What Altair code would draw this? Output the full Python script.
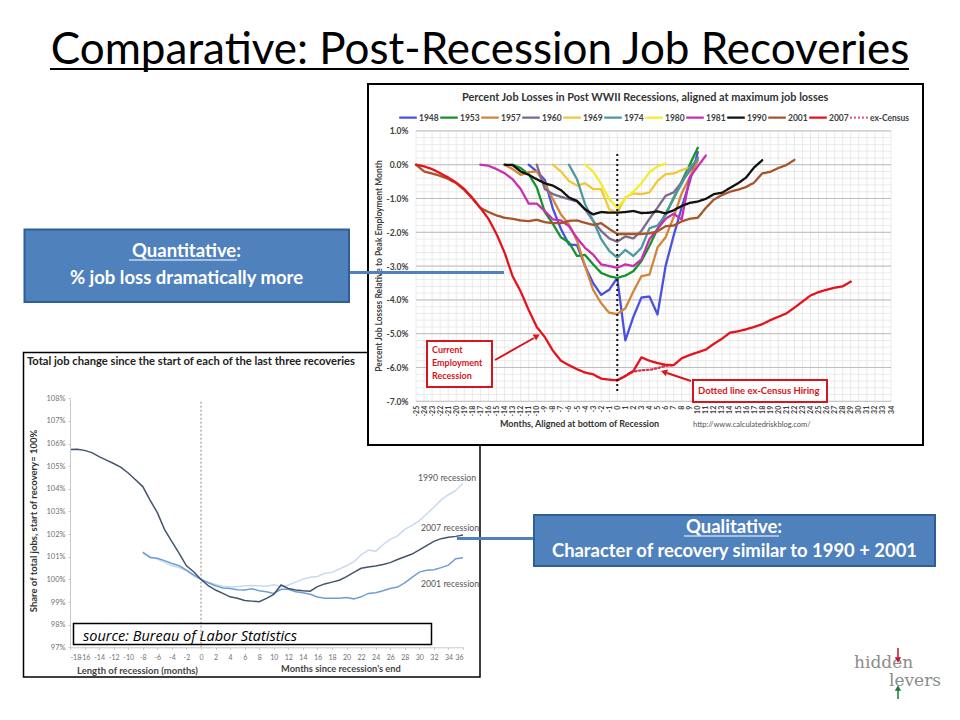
import altair as alt

# ---------- upper chart values (percent job loss, by month from the bottom) ----------
top_names = ["1948", "1953", "1957", "1960", "1969", "1974", "1980", "1981", "1990", "2001", "ex-Census", "2007"]
legend_order = ["1948", "1953", "1957", "1960", "1969", "1974", "1980", "1981", "1990", "2001", "2007", "ex-Census"]
top_colors = ["#4a50e0", "#14932c", "#d2863c", "#7b6a8e", "#efc93a", "#4c9aa0", "#f2ee2e", "#c82fb4", "#111111", "#a5562a", "#e03050", "#e5141c"]
top_starts = [-11, -13, -14, -10, -8, -6, -4, -17, -14, -25, 0, -25]

s1948 = [0, -0.2, -0.45, -1.3, -1.9, -2.36, -2.38, -3.0, -3.5, -3.85, -3.7, -3.35, -5.2, -4.5, -3.93, -3.9, -4.43, -3.0, -2.1, -1.27, -0.5, 0.37]
s1953 = [0, -0.1, -0.28, -0.67, -1.4, -1.75, -2.15, -2.3, -2.7, -2.67, -2.95, -3.2, -3.3, -3.35, -3.28, -3.15, -2.85, -2.4, -1.9, -1.45, -1.0, -0.5, 0.0, 0.5]
s1957 = [0, -0.13, -0.3, -0.22, -0.2, -0.57, -1.02, -1.47, -1.77, -2.25, -3.0, -3.7, -4.1, -4.38, -4.42, -4.25, -3.75, -3.3, -3.25, -2.45, -2.15, -1.55, -0.85, -0.37, 0.12]
s1960 = [0, -0.72, -0.87, -0.95, -1.02, -1.09, -1.32, -1.66, -1.96, -2.18, -2.28, -2.12, -2.18, -1.96, -1.6, -1.27, -0.92, -0.82, -0.52, -0.18, 0.22]
s1969 = [0, -0.2, -0.48, -0.62, -0.55, -0.72, -0.72, -1.32, -1.42, -0.97, -0.85, -0.87, -0.82, -0.48, -0.28, -0.26, -0.16, -0.08]
s1974 = [0, -0.43, -1.17, -1.66, -2.2, -2.55, -2.75, -2.52, -2.7, -2.46, -1.88, -1.8, -1.5, -0.97, -0.57, -0.08, 0.17]
s1980 = [0, -0.2, -0.57, -1.02, -1.27, -1.0, -0.8, -0.55, -0.22, -0.05, 0.03]
s1981 = [0, -0.03, -0.13, -0.25, -0.43, -0.72, -1.15, -1.15, -1.37, -1.62, -1.65, -1.82, -2.17, -2.46, -2.66, -2.95, -3.0, -3.05, -2.95, -3.0, -2.8, -2.2, -1.9, -1.6, -1.45, -1.62, -0.38, -0.05, 0.27]
s1990 = [0, -0.01, -0.2, -0.3, -0.43, -0.55, -0.62, -0.75, -0.97, -1.07, -1.32, -1.47, -1.4, -1.42, -1.42, -1.4, -1.37, -1.43, -1.42, -1.38, -1.44, -1.35, -1.22, -1.13, -1.09, -1.01, -0.87, -0.83, -0.69, -0.55, -0.38, -0.08, 0.13]
s2001 = [0, -0.2, -0.26, -0.33, -0.42, -0.55, -0.75, -1.0, -1.28, -1.4, -1.5, -1.57, -1.6, -1.65, -1.67, -1.63, -1.7, -1.73, -1.73, -1.66, -1.65, -1.72, -1.78, -1.73, -1.9, -2.05, -2.05, -2.05, -2.05, -2.03, -1.97, -1.82, -1.8, -1.68, -1.6, -1.57, -1.28, -1.03, -0.9, -0.8, -0.74, -0.66, -0.53, -0.26, -0.21, -0.1, -0.01, 0.14]
sCensus = [-6.38, -6.25, -6.12, -6.08, -6.07, -6.02, -5.95, -5.93]
s2007 = [0, -0.05, -0.13, -0.25, -0.38, -0.53, -0.72, -0.98, -1.28, -1.6, -2.05, -2.6, -3.3, -3.75, -4.3, -4.8, -5.1, -5.5, -5.8, -5.93, -6.05, -6.15, -6.2, -6.33, -6.36, -6.38, -6.25, -6.1, -5.7, -5.8, -5.87, -5.92, -5.93, -5.73, -5.63, -5.55, -5.47, -5.3, -5.15, -4.97, -4.93, -4.87, -4.8, -4.72, -4.6, -4.5, -4.4, -4.23, -4.05, -3.87, -3.77, -3.7, -3.64, -3.6, -3.46]
top_values = [s1948, s1953, s1957, s1960, s1969, s1974, s1980, s1981, s1990, s2001, sCensus, s2007]

top_months = list(range(-25, 35))
top_pct = [-7, -6, -5, -4, -3, -2, -1, 0, 1]
top_minor = [v / 5 for v in range(-35, 6)]

# ---------- lower chart values (share of total jobs) ----------
low_2007 = [105.74, 105.75, 105.7, 105.6, 105.42, 105.27, 105.12, 104.95, 104.7, 104.4, 104.1, 103.5, 102.95, 102.2, 101.67, 101.15, 100.6, 100.34, 100.0, 99.72, 99.53, 99.38, 99.23, 99.17, 99.07, 99.04, 99.01, 99.16, 99.34, 99.75, 99.6, 99.53, 99.5, 99.48, 99.68, 99.8, 99.88, 99.96, 100.12, 100.31, 100.49, 100.55, 100.59, 100.66, 100.74, 100.88, 101.0, 101.12, 101.3, 101.49, 101.68, 101.8, 101.86, 101.9, 101.96]
low_2001 = [101.2, 100.97, 100.93, 100.83, 100.7, 100.6, 100.41, 100.2, 100.0, 99.85, 99.72, 99.62, 99.6, 99.54, 99.53, 99.59, 99.5, 99.45, 99.38, 99.56, 99.56, 99.45, 99.41, 99.34, 99.22, 99.17, 99.17, 99.17, 99.2, 99.14, 99.23, 99.38, 99.41, 99.5, 99.6, 99.66, 99.85, 100.09, 100.32, 100.4, 100.43, 100.52, 100.63, 100.91, 100.96]
low_1990 = [101.15, 101.0, 100.9, 100.75, 100.6, 100.52, 100.38, 100.15, 100.0, 99.87, 99.78, 99.7, 99.68, 99.68, 99.72, 99.73, 99.72, 99.7, 99.76, 99.68, 99.75, 99.88, 100.01, 100.09, 100.13, 100.27, 100.31, 100.46, 100.6, 100.78, 101.08, 101.3, 101.24, 101.53, 101.77, 101.92, 102.21, 102.39, 102.6, 102.89, 103.19, 103.51, 103.74, 103.93, 104.25]
low_names = ["1990 recession", "2001 recession", "2007 recession"]
low_colors = ["#c9daf0", "#6f9dd8", "#44546a"]
low_values = [low_1990, low_2001, low_2007]
low_starts = [-8, -8, -18]
low_x_ticks = list(range(-18, 37, 2))
low_y_ticks = list(range(97, 109))

FONT = "Lato"


def P(v):
    return v - 8


one = alt.Data(values=[{"k": 1}])


def label(text, x, y, size=12, color="#000000", weight="normal", align="left", angle=0, font=FONT, style="normal"):
    return alt.Chart(alt.Data(values=[{"t": text}])).mark_text(
        fontSize=size, color=color, fontWeight=weight, align=align, angle=angle,
        font=font, fontStyle=style, baseline="middle"
    ).encode(x=alt.value(P(x)), y=alt.value(P(y)), text="t:N")


def box(x0, y0, x1, y1, fill="#ffffff", stroke="#000000", width=1.5):
    return alt.Chart(one).mark_rect(fill=fill, stroke=stroke, strokeWidth=width).encode(
        x=alt.value(P(x0)), x2=alt.value(P(x1)), y=alt.value(P(y0)), y2=alt.value(P(y1)))


def seg(x0, y0, x1, y1, color="#000000", width=1.0):
    return alt.Chart(one).mark_rule(color=color, strokeWidth=width).encode(
        x=alt.value(P(x0)), x2=alt.value(P(x1)), y=alt.value(P(y0)), y2=alt.value(P(y1)))


def head(x, y, angle, color, size=50):
    return alt.Chart(one).mark_point(shape="triangle-up", filled=True, opacity=1, color=color, size=size, angle=angle).encode(
        x=alt.value(P(x)), y=alt.value(P(y)))


# ---------- upper chart ----------
tx = alt.Scale(domain=[-25, 34], range=[P(416), P(891)], nice=False, zero=False)
ty = alt.Scale(domain=[-7, 1], range=[P(401.3), P(130.9)], nice=False, zero=False)

top_rows = []
for name, start, vals in zip(top_names, top_starts, top_values):
    for i, v in enumerate(vals):
        top_rows.append({"series": name, "m": start + i, "v": v})

minus_fix = "replace(format(datum.value,'.1f'),'\u2212','-')+'%'"
int_fix = "replace(format(datum.value,'d'),'\u2212','-')"

t_minor_h = alt.Chart(alt.Data(values=[{"v": v} for v in top_minor])).mark_rule(color="#e4e4e4", strokeWidth=0.8).encode(
    y=alt.Y("v:Q", scale=ty, title=None,
            axis=alt.Axis(values=top_pct, tickCount=len(top_pct), labelExpr=minus_fix, labelFont=FONT, labelFontWeight="bold", labelFontSize=8.5,
                          labelColor="#404040", domain=False, ticks=False, grid=False, labelPadding=8, zindex=1,
                          orient="left", offset=-P(416))),
    x=alt.X(datum=-25, scale=tx), x2=alt.X2(datum=34))
t_minor_v = alt.Chart(alt.Data(values=[{"m": m} for m in top_months])).mark_rule(color="#e4e4e4", strokeWidth=0.8).encode(
    x=alt.X("m:Q", scale=tx, title=None,
            axis=alt.Axis(values=top_months, tickCount=len(top_months), labelExpr=int_fix, labelAngle=270, labelAlign="right", labelBaseline="middle",
                          labelFont=FONT, labelFontWeight="bold", labelFontSize=7, labelColor="#404040", labelOverlap=False,
                          domain=False, ticks=False, grid=False, labelPadding=4, zindex=1,
                          orient="bottom", offset=-(704 - P(401.3)))),
    y=alt.Y(datum=-7, scale=ty), y2=alt.Y2(datum=1))
t_major = alt.Chart(alt.Data(values=[{"v": v} for v in top_pct])).mark_rule(color="#bdbdbd", strokeWidth=1).encode(
    y=alt.Y("v:Q", scale=ty), x=alt.X(datum=-25, scale=tx), x2=alt.X2(datum=34))
t_lines = alt.Chart(alt.Data(values=top_rows)).mark_line(strokeCap="round", strokeJoin="round").encode(
    x=alt.X("m:Q", scale=tx), y=alt.Y("v:Q", scale=ty),
    color=alt.Color("series:N", scale=alt.Scale(domain=legend_order, range=[top_colors[top_names.index(n)] for n in legend_order]),
                    legend=alt.Legend(orient="none", legendX=P(398), legendY=P(107.5), direction="horizontal", columns=12, title=None,
                                      symbolType="stroke", symbolSize=310, labelFont=FONT, labelFontSize=8.5, labelFontWeight="bold",
                                      labelColor="#404040", labelOffset=1, columnPadding=-7.4, padding=0, rowPadding=0)),
    strokeDash=alt.StrokeDash("series:N", scale=alt.Scale(domain=legend_order, range=[[1, 0]] * 11 + [[1.5, 2.5]])),
    strokeWidth=alt.StrokeWidth("series:N", scale=alt.Scale(domain=legend_order, range=[2.3] * 10 + [3.2, 1.5])),
    order=alt.Order("m:Q"),
)
t_zero = alt.Chart(one).mark_rule(color="#111111", strokeWidth=2, strokeDash=[2, 3]).encode(
    x=alt.X(datum=0, scale=tx), y=alt.Y(datum=0.32, scale=ty), y2=alt.Y2(datum=-6.75))
top_chart = alt.layer(t_minor_h, t_minor_v, t_major, t_lines, t_zero)

# ---------- lower chart ----------
lx = alt.Scale(domain=[-18, 36], range=[P(70), P(463)], nice=False, zero=False)
ly = alt.Scale(domain=[97, 108], range=[P(647.3), P(398.3)], nice=False, zero=False)

low_rows = []
for name, start, vals in zip(low_names, low_starts, low_values):
    for i, v in enumerate(vals):
        low_rows.append({"series": name, "m": start + i, "v": v})

l_lines = alt.Chart(alt.Data(values=low_rows)).mark_line(strokeWidth=1.5).encode(
    x=alt.X("m:Q", scale=lx, title=None,
            axis=alt.Axis(values=low_x_ticks, tickCount=len(low_x_ticks), labelExpr=int_fix, labelFont=FONT, labelFontSize=7, labelColor="#707070",
                          domainColor="#c8c8c8", tickColor="#c8c8c8", tickSize=2, grid=False, labelPadding=4, labelOverlap=False, zindex=1,
                          orient="bottom", offset=-(704 - P(647.3)))),
    y=alt.Y("v:Q", scale=ly, title=None,
            axis=alt.Axis(values=low_y_ticks, tickCount=len(low_y_ticks), labelExpr="datum.value+'%'", labelFont=FONT, labelFontSize=7.5, labelColor="#707070",
                          domainColor="#c8c8c8", tickColor="#c8c8c8", tickSize=2, grid=False, labelPadding=3, labelOverlap=False, zindex=1,
                          orient="left", offset=-P(70))),
    color=alt.Color("series:N", scale=alt.Scale(domain=low_names, range=low_colors), legend=None),
    order=alt.Order("m:Q"),
)
l_zero = alt.Chart(one).mark_rule(color="#8a8a8a", strokeWidth=1, strokeDash=[2, 2]).encode(
    x=alt.X(datum=0, scale=lx), y=alt.Y(datum=107.85, scale=ly), y2=alt.Y2(datum=97))
low_chart = alt.layer(l_zero, l_lines)

# ---------- slide furniture ----------
BLUE = "#4f81bd"
DBLUE = "#2f5f94"
RED = "#d8141c"

back = [
    label("Comparative: Post-Recession Job Recoveries", 480, 51, size=44, align="center"),
    seg(50, 69, 909, 69, width=2),
    box(23.5, 352.5, 480, 677),
]
low_text = [
    label("Total job change since the start of each of the last three recoveries", 27, 362, size=11.2, weight="bold", color="#222222"),
    label("Share of total jobs, start of recovery= 100%", 34, 521, size=9.5, weight="bold", color="#333333", align="center", angle=270),
    label("Length of recession (months)", 77, 671, size=9.5, weight="bold", color="#444444"),
    label("Months since recession's end", 281, 669, size=9.3, weight="bold", color="#444444"),
    label("1990 recession", 418, 478, size=8.7, color="#555555"),
    label("2007 recession", 421, 528, size=8.7, color="#555555"),
    label("2001 recession", 421, 584, size=8.7, color="#555555"),
    box(73.5, 623.5, 431.5, 644.5, fill="transparent"),
    label("source: Bureau of Labor Statistics", 83, 637, size=14.5, style="italic", font="Open Sans"),
]
top_frame = [box(368, 84, 923, 445, width=2)]
top_text = [
    label("Percent Job Losses in Post WWII Recessions, aligned at maximum job losses", 462, 97.5, size=10.9, weight="bold", color="#333333"),
    label("Percent Job Losses Relative to Peak Employment Month", 379, 266, size=8.5, weight="bold", color="#404040", align="center", angle=270),
    label("Months, Aligned at bottom of Recession", 500, 424, size=9, weight="bold", color="#333333"),
    label("http://www.calculatedriskblog.com/", 693, 425, size=7.5, color="#505050"),
    box(427, 341, 492, 387, stroke=RED, width=2),
    label("Current", 432, 350, size=9, weight="bold", color=RED),
    label("Employment", 432, 363, size=9, weight="bold", color=RED),
    label("Recession", 432, 376, size=9, weight="bold", color=RED),
    seg(495, 360, 534, 338, color=RED, width=2),
    head(537, 336, 60, RED),
    box(693, 380, 827, 402, stroke=RED, width=2),
    label("Dotted line ex-Census Hiring", 698, 391, size=9.5, weight="bold", color=RED),
    seg(691, 381, 667, 373, color=RED, width=2),
    head(664, 372, 288, RED),
]
front = [
    seg(349, 272.5, 504, 272.5, color=BLUE, width=3),
    seg(457, 538.5, 534, 538.5, color=BLUE, width=3),
    box(24.5, 229.5, 349, 302, fill=BLUE, stroke=DBLUE, width=2),
    label("Quantitative:", 186.5, 251, size=18.5, weight="bold", color="#ffffff", align="center"),
    seg(129, 260, 237, 260, color="#ffffff", width=1.2),
    label("% job loss dramatically more", 186.5, 278, size=18.5, weight="bold", color="#ffffff", align="center"),
    box(534, 515, 935, 566, fill=BLUE, stroke=DBLUE, width=2),
    label("Qualitative:", 734, 527, size=18.5, weight="bold", color="#ffffff", align="center"),
    seg(684, 536, 779, 536, color="#ffffff", width=1.2),
    label("Character of recovery similar to 1990 + 2001", 734.5, 551, size=18.4, weight="bold", color="#ffffff", align="center"),
    label("hidden", 854, 663, size=17, color="#8c8c8c", font="DejaVu Serif"),
    label("levers", 889, 681, size=17, color="#8c8c8c", font="DejaVu Serif"),
    seg(898, 648, 898, 658, color="#c8102e", width=1.5),
    head(898, 660, 180, "#c8102e", size=40),
    seg(898, 690, 898, 699, color="#1a7a3a", width=1.5),
    head(898, 688, 0, "#1a7a3a", size=40),
]

chart = alt.layer(
    *back, low_chart, *low_text, *top_frame, top_chart, *top_text, *front
).resolve_scale(x="independent", y="independent", color="independent", strokeDash="independent", strokeWidth="independent").properties(
    width=944, height=704, padding=0,
    autosize=alt.AutoSizeParams(type="none"),
    background="#ffffff",
).configure_view(stroke=None)

chart.save("out.html", embed_options={"renderer": "svg", "actions": False})
